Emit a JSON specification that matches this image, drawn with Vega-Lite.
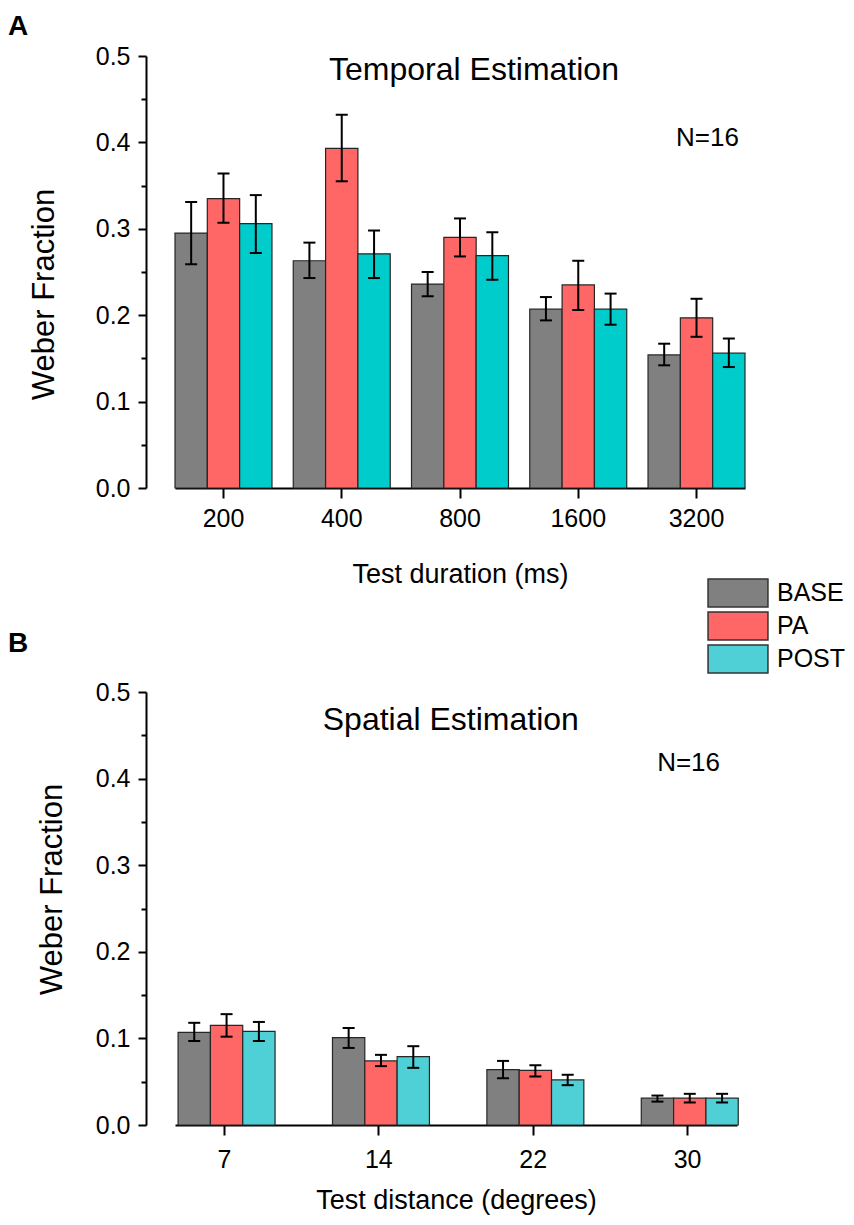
{
  "$schema": "https://vega.github.io/schema/vega-lite/v6.json",
  "background": "white",
  "padding": {"left": 8, "top": 13, "right": 4, "bottom": 4},
  "spacing": -9,
  "resolve": {"scale": {"color": "independent"}, "legend": {"color": "independent"}},
  "vconcat": [
    {
      "width": 570,
      "height": 432,
      "title": {"text": "A", "anchor": "start", "frame": "group", "dx": -167, "offset": -19, "baseline": "alphabetic", "fontSize": 28, "fontWeight": "bold", "font": "Liberation Sans", "color": "black"},
      "data": {
        "values": [
          {"dur": "200", "cond": "BASE", "mean": 0.295, "lo": 0.259, "hi": 0.331},
          {"dur": "200", "cond": "PA", "mean": 0.335, "lo": 0.307, "hi": 0.364},
          {"dur": "200", "cond": "POST", "mean": 0.306, "lo": 0.272, "hi": 0.339},
          {"dur": "400", "cond": "BASE", "mean": 0.263, "lo": 0.243, "hi": 0.284},
          {"dur": "400", "cond": "PA", "mean": 0.393, "lo": 0.355, "hi": 0.432},
          {"dur": "400", "cond": "POST", "mean": 0.271, "lo": 0.243, "hi": 0.298},
          {"dur": "800", "cond": "BASE", "mean": 0.236, "lo": 0.222, "hi": 0.250},
          {"dur": "800", "cond": "PA", "mean": 0.290, "lo": 0.268, "hi": 0.312},
          {"dur": "800", "cond": "POST", "mean": 0.269, "lo": 0.241, "hi": 0.296},
          {"dur": "1600", "cond": "BASE", "mean": 0.207, "lo": 0.194, "hi": 0.221},
          {"dur": "1600", "cond": "PA", "mean": 0.235, "lo": 0.206, "hi": 0.263},
          {"dur": "1600", "cond": "POST", "mean": 0.207, "lo": 0.189, "hi": 0.225},
          {"dur": "3200", "cond": "BASE", "mean": 0.154, "lo": 0.142, "hi": 0.167},
          {"dur": "3200", "cond": "PA", "mean": 0.197, "lo": 0.175, "hi": 0.219},
          {"dur": "3200", "cond": "POST", "mean": 0.156, "lo": 0.140, "hi": 0.173}
        ]
      },
      "encoding": {
        "x": {
          "field": "dur",
          "type": "nominal",
          "sort": ["200", "400", "800", "1600", "3200"],
          "scale": {"paddingInner": 0.18, "paddingOuter": 0},
          "axis": {"title": "Test duration (ms)", "labelAngle": 0, "tickSize": 10, "labelPadding": 8, "titlePadding": 30}
        }
      },
      "layer": [
        {
          "mark": {"type": "bar", "stroke": "#262626", "strokeWidth": 1.2},
          "encoding": {
            "xOffset": {"field": "cond", "sort": ["BASE", "PA", "POST"], "scale": {"paddingInner": 0, "paddingOuter": 0}},
            "y": {
              "field": "mean",
              "type": "quantitative",
              "title": "Weber Fraction",
              "scale": {"domain": [0, 0.5], "nice": false},
              "axis": {
                "offset": 29,
                "values": [0, 0.05, 0.1, 0.15, 0.2, 0.25, 0.3, 0.35, 0.4, 0.45, 0.5],
                "labelExpr": "round(datum.value*100) % 10 == 0 ? format(datum.value, '.1f') : ''",
                "tickSize": {"condition": {"test": "round(datum.value*100) % 10 != 0", "value": 5}, "value": 8},
                "labelPadding": 8,
                "labelOverlap": false,
                "titleFontSize": 31,
                "titleY": 238,
                "titlePadding": 35
              }
            },
            "color": {
              "field": "cond",
              "type": "nominal",
              "scale": {"domain": ["BASE", "PA", "POST"], "range": ["#808080", "#FF6666", "#00CCCC"]},
              "legend": null
            }
          }
        },
        {
          "mark": {"type": "rule", "strokeWidth": 2, "color": "black"},
          "encoding": {
            "xOffset": {"field": "cond", "sort": ["BASE", "PA", "POST"]},
            "y": {"field": "lo", "type": "quantitative", "title": "Weber Fraction"},
            "y2": {"field": "hi"}
          }
        },
        {
          "mark": {"type": "tick", "orient": "horizontal", "size": 12, "thickness": 2, "color": "black", "opacity": 1},
          "encoding": {
            "xOffset": {"field": "cond", "sort": ["BASE", "PA", "POST"]},
            "y": {"field": "lo", "type": "quantitative", "title": "Weber Fraction"}
          }
        },
        {
          "mark": {"type": "tick", "orient": "horizontal", "size": 12, "thickness": 2, "color": "black", "opacity": 1},
          "encoding": {
            "xOffset": {"field": "cond", "sort": ["BASE", "PA", "POST"]},
            "y": {"field": "hi", "type": "quantitative", "title": "Weber Fraction"}
          }
        },
        {
          "data": {"values": [{"t": "Temporal Estimation"}]},
          "mark": {"type": "text", "fontSize": 32, "baseline": "alphabetic", "align": "center", "dx": 14, "color": "black"},
          "encoding": {"x": {"datum": "800"}, "y": {"datum": 0.472}, "text": {"field": "t"}}
        },
        {
          "data": {"values": [{"t": "N=16"}]},
          "mark": {"type": "text", "fontSize": 26, "baseline": "alphabetic", "align": "center", "dx": 11, "color": "black"},
          "encoding": {"x": {"datum": "3200"}, "y": {"datum": 0.396}, "text": {"field": "t"}}
        }
      ]
    },
    {
      "width": 562,
      "height": 433,
      "title": {"text": "B", "anchor": "start", "frame": "group", "dx": -167, "offset": -102, "baseline": "alphabetic", "fontSize": 28, "fontWeight": "bold", "font": "Liberation Sans", "color": "black"},
      "data": {
        "values": [
          {"dist": "7", "cond": "BASE", "mean": 0.107, "lo": 0.097, "hi": 0.118},
          {"dist": "7", "cond": "PA", "mean": 0.115, "lo": 0.102, "hi": 0.128},
          {"dist": "7", "cond": "POST", "mean": 0.108, "lo": 0.097, "hi": 0.119},
          {"dist": "14", "cond": "BASE", "mean": 0.101, "lo": 0.089, "hi": 0.112},
          {"dist": "14", "cond": "PA", "mean": 0.074, "lo": 0.068, "hi": 0.081},
          {"dist": "14", "cond": "POST", "mean": 0.079, "lo": 0.066, "hi": 0.091},
          {"dist": "22", "cond": "BASE", "mean": 0.064, "lo": 0.054, "hi": 0.074},
          {"dist": "22", "cond": "PA", "mean": 0.063, "lo": 0.056, "hi": 0.069},
          {"dist": "22", "cond": "POST", "mean": 0.052, "lo": 0.046, "hi": 0.058},
          {"dist": "30", "cond": "BASE", "mean": 0.031, "lo": 0.027, "hi": 0.034},
          {"dist": "30", "cond": "PA", "mean": 0.031, "lo": 0.026, "hi": 0.036},
          {"dist": "30", "cond": "POST", "mean": 0.031, "lo": 0.026, "hi": 0.036}
        ]
      },
      "encoding": {
        "x": {
          "field": "dist",
          "type": "nominal",
          "sort": ["7", "14", "22", "30"],
          "scale": {"paddingInner": 0.4, "paddingOuter": 0.02},
          "axis": {"title": "Test distance (degrees)", "labelAngle": 0, "tickSize": 10, "labelPadding": 12, "titlePadding": 15}
        }
      },
      "layer": [
        {
          "mark": {"type": "bar", "stroke": "#262626", "strokeWidth": 1.2},
          "encoding": {
            "xOffset": {"field": "cond", "sort": ["BASE", "PA", "POST"], "scale": {"paddingInner": 0, "paddingOuter": 0}},
            "y": {
              "field": "mean",
              "type": "quantitative",
              "title": "Weber Fraction",
              "scale": {"domain": [0, 0.5], "nice": false},
              "axis": {
                "offset": 29,
                "values": [0, 0.05, 0.1, 0.15, 0.2, 0.25, 0.3, 0.35, 0.4, 0.45, 0.5],
                "labelExpr": "round(datum.value*100) % 10 == 0 ? format(datum.value, '.1f') : ''",
                "tickSize": {"condition": {"test": "round(datum.value*100) % 10 != 0", "value": 5}, "value": 8},
                "labelPadding": 8,
                "labelOverlap": false,
                "titleFontSize": 31,
                "titleY": 197,
                "titlePadding": 27
              }
            },
            "color": {
              "field": "cond",
              "type": "nominal",
              "scale": {"domain": ["BASE", "PA", "POST"], "range": ["#808080", "#FF6666", "#4FCFD6"]},
              "legend": {
                "orient": "none",
                "legendX": 548,
                "legendY": -114,
                "title": null,
                "padding": 0,
                "symbolType": "M-2.14,-1H2.14V1H-2.14Z",
                "symbolSize": 784,
                "symbolStrokeColor": "#333333",
                "symbolStrokeWidth": 1.5,
                "symbolOpacity": 1,
                "labelFontSize": 25,
                "labelFont": "Liberation Sans",
                "labelColor": "black",
                "labelOffset": 24,
                "rowPadding": -1
              }
            }
          }
        },
        {
          "mark": {"type": "rule", "strokeWidth": 2, "color": "black"},
          "encoding": {
            "xOffset": {"field": "cond", "sort": ["BASE", "PA", "POST"]},
            "y": {"field": "lo", "type": "quantitative", "title": "Weber Fraction"},
            "y2": {"field": "hi"}
          }
        },
        {
          "mark": {"type": "tick", "orient": "horizontal", "size": 12, "thickness": 2, "color": "black", "opacity": 1},
          "encoding": {
            "xOffset": {"field": "cond", "sort": ["BASE", "PA", "POST"]},
            "y": {"field": "lo", "type": "quantitative", "title": "Weber Fraction"}
          }
        },
        {
          "mark": {"type": "tick", "orient": "horizontal", "size": 12, "thickness": 2, "color": "black", "opacity": 1},
          "encoding": {
            "xOffset": {"field": "cond", "sort": ["BASE", "PA", "POST"]},
            "y": {"field": "hi", "type": "quantitative", "title": "Weber Fraction"}
          }
        },
        {
          "data": {"values": [{"t": "Spatial Estimation"}]},
          "mark": {"type": "text", "fontSize": 32, "baseline": "alphabetic", "align": "center", "dx": 72, "color": "black"},
          "encoding": {"x": {"datum": "14"}, "y": {"datum": 0.456}, "text": {"field": "t"}}
        },
        {
          "data": {"values": [{"t": "N=16"}]},
          "mark": {"type": "text", "fontSize": 26, "baseline": "alphabetic", "align": "center", "dx": 1, "color": "black"},
          "encoding": {"x": {"datum": "30"}, "y": {"datum": 0.409}, "text": {"field": "t"}}
        }
      ]
    }
  ],
  "config": {
    "font": "Liberation Sans",
    "view": {"stroke": null},
    "axis": {
      "grid": false,
      "domainColor": "black",
      "domainWidth": 2,
      "tickColor": "black",
      "tickWidth": 2,
      "labelColor": "black",
      "titleColor": "black",
      "labelFont": "Liberation Sans",
      "titleFont": "Liberation Sans",
      "labelFontSize": 25,
      "titleFontSize": 27,
      "titleFontWeight": "normal"
    },
    "text": {"font": "Liberation Sans"}
  }
}
